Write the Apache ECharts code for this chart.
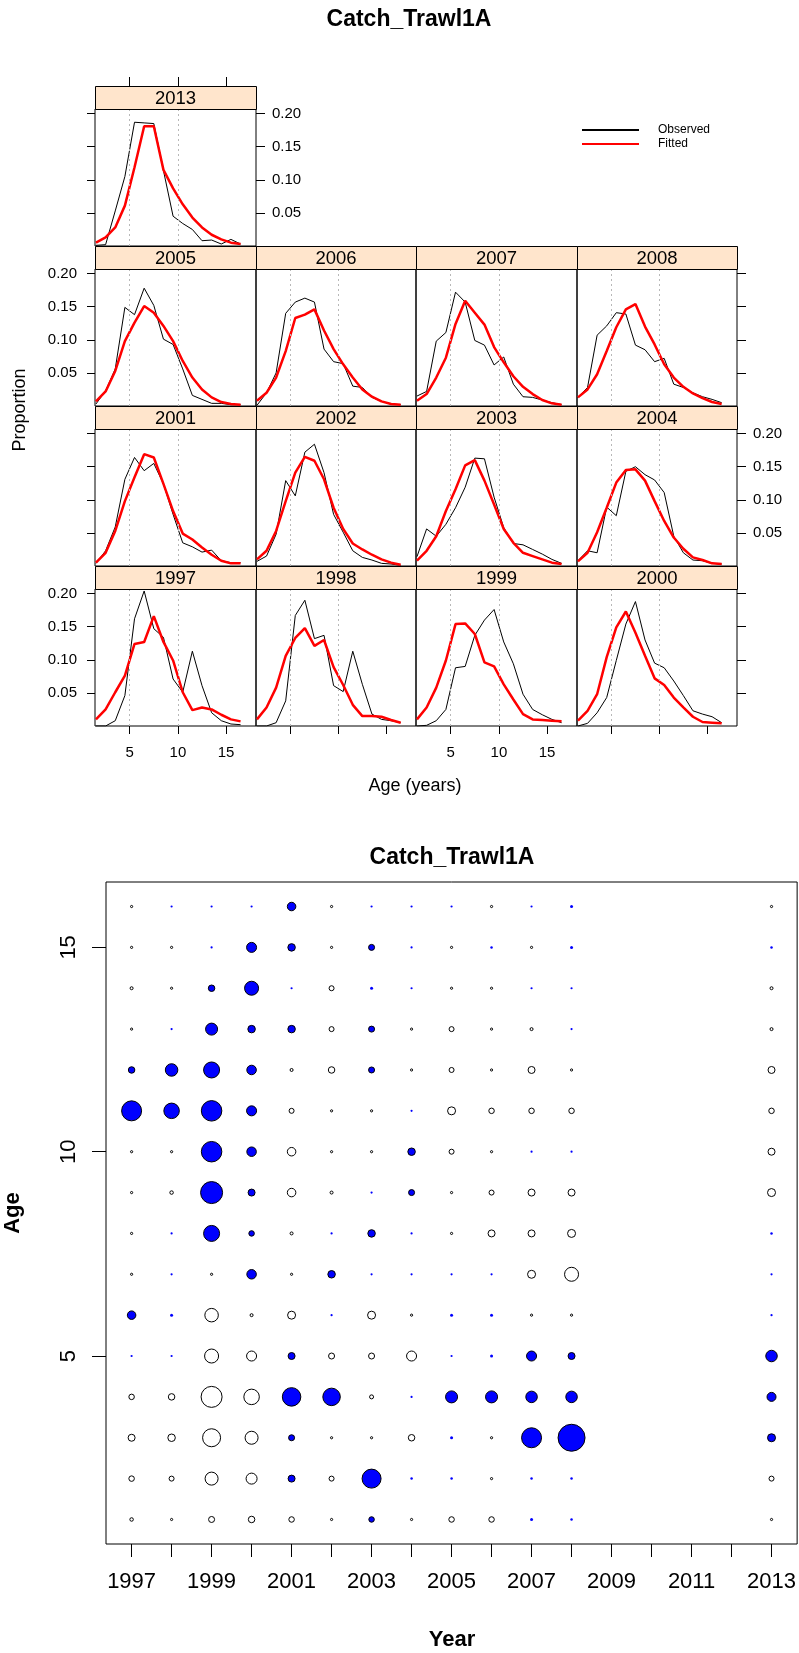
<!DOCTYPE html>
<html>
<head>
<meta charset="utf-8">
<title>Catch_Trawl1A</title>
<script src="https://cdn.jsdelivr.net/npm/echarts@6/dist/echarts.min.js"></script>
<style>
  html, body { margin: 0; padding: 0; background: #fff; }
  #chart { width: 799px; height: 1653px; }
</style>
</head>
<body>
<div id="chart"></div>
<script>
// ---- age composition fits (proportion at age) ----
const ageBins = [1.5, 2.5, 3.5, 4.5, 5.5, 6.5, 7.5, 8.5, 9.5, 10.5, 11.5, 12.5, 13.5, 14.5, 15.5, 16.5];

const obs2013 = [0.001, 0.002, 0.053, 0.105, 0.187, 0.186, 0.185, 0.114, 0.045, 0.034, 0.025, 0.008, 0.009, 0.003, 0.010, 0.003];
const fit2013 = [0.005, 0.013, 0.028, 0.061, 0.119, 0.181, 0.181, 0.115, 0.087, 0.063, 0.043, 0.028, 0.017, 0.010, 0.005, 0.003];
const obs2005 = [0.003, 0.023, 0.056, 0.149, 0.138, 0.178, 0.152, 0.101, 0.093, 0.056, 0.016, 0.010, 0.004, 0.004, 0.002, 0.002];
const fit2005 = [0.007, 0.022, 0.053, 0.098, 0.126, 0.151, 0.141, 0.121, 0.098, 0.068, 0.043, 0.025, 0.013, 0.006, 0.003, 0.002];
const obs2006 = [0.001, 0.020, 0.050, 0.140, 0.157, 0.163, 0.157, 0.086, 0.067, 0.064, 0.030, 0.028, 0.013, 0.007, 0.003, 0.002];
const fit2006 = [0.008, 0.020, 0.043, 0.083, 0.133, 0.138, 0.146, 0.114, 0.086, 0.063, 0.043, 0.025, 0.014, 0.007, 0.003, 0.002];
const obs2007 = [0.015, 0.022, 0.098, 0.111, 0.172, 0.157, 0.099, 0.092, 0.062, 0.074, 0.033, 0.014, 0.013, 0.009, 0.005, 0.002];
const fit2007 = [0.008, 0.018, 0.043, 0.073, 0.124, 0.159, 0.141, 0.123, 0.089, 0.066, 0.045, 0.029, 0.018, 0.009, 0.004, 0.002];
const obs2008 = [0.013, 0.028, 0.107, 0.121, 0.141, 0.139, 0.092, 0.085, 0.067, 0.072, 0.033, 0.028, 0.020, 0.014, 0.010, 0.005];
const fit2008 = [0.013, 0.025, 0.048, 0.083, 0.119, 0.146, 0.154, 0.120, 0.093, 0.063, 0.043, 0.029, 0.019, 0.012, 0.006, 0.003];
const obs2001 = [0.004, 0.023, 0.059, 0.131, 0.164, 0.144, 0.155, 0.124, 0.078, 0.035, 0.029, 0.021, 0.024, 0.008, 0.005, 0.005];
const fit2001 = [0.005, 0.020, 0.053, 0.098, 0.134, 0.169, 0.164, 0.124, 0.083, 0.049, 0.040, 0.028, 0.017, 0.008, 0.004, 0.004];
const obs2002 = [0.007, 0.015, 0.048, 0.129, 0.106, 0.172, 0.184, 0.141, 0.078, 0.051, 0.023, 0.013, 0.009, 0.004, 0.003, 0.001];
const fit2002 = [0.010, 0.023, 0.053, 0.098, 0.141, 0.165, 0.159, 0.131, 0.088, 0.056, 0.034, 0.025, 0.017, 0.010, 0.005, 0.002];
const obs2003 = [0.014, 0.056, 0.045, 0.063, 0.088, 0.119, 0.163, 0.162, 0.104, 0.058, 0.034, 0.032, 0.025, 0.018, 0.010, 0.004];
const fit2003 = [0.008, 0.023, 0.045, 0.083, 0.116, 0.152, 0.160, 0.129, 0.093, 0.056, 0.035, 0.020, 0.015, 0.010, 0.005, 0.003];
const obs2004 = [0.008, 0.023, 0.020, 0.089, 0.076, 0.143, 0.150, 0.138, 0.130, 0.111, 0.045, 0.020, 0.009, 0.008, 0.004, 0.003];
const fit2004 = [0.007, 0.020, 0.051, 0.088, 0.126, 0.145, 0.146, 0.129, 0.098, 0.068, 0.043, 0.026, 0.013, 0.009, 0.004, 0.003];
const obs1997 = [0.000, 0.000, 0.008, 0.046, 0.162, 0.204, 0.147, 0.134, 0.071, 0.051, 0.113, 0.061, 0.020, 0.008, 0.003, 0.002];
const fit1997 = [0.010, 0.025, 0.051, 0.076, 0.124, 0.127, 0.166, 0.127, 0.099, 0.051, 0.024, 0.028, 0.025, 0.017, 0.010, 0.007];
const obs1998 = [0.000, 0.000, 0.005, 0.038, 0.167, 0.190, 0.132, 0.137, 0.061, 0.052, 0.113, 0.063, 0.018, 0.010, 0.008, 0.005];
const fit1998 = [0.010, 0.028, 0.058, 0.106, 0.133, 0.148, 0.121, 0.130, 0.089, 0.062, 0.032, 0.015, 0.015, 0.014, 0.009, 0.005];
const obs1999 = [0.000, 0.001, 0.008, 0.025, 0.088, 0.090, 0.137, 0.160, 0.176, 0.127, 0.094, 0.048, 0.025, 0.017, 0.010, 0.005];
const fit1999 = [0.010, 0.028, 0.058, 0.099, 0.154, 0.155, 0.139, 0.096, 0.090, 0.063, 0.040, 0.018, 0.010, 0.009, 0.008, 0.007];
const obs2000 = [0.000, 0.004, 0.020, 0.043, 0.099, 0.154, 0.188, 0.130, 0.095, 0.088, 0.068, 0.046, 0.023, 0.018, 0.014, 0.005];
const fit2000 = [0.008, 0.023, 0.048, 0.104, 0.149, 0.173, 0.141, 0.106, 0.072, 0.062, 0.043, 0.028, 0.014, 0.006, 0.005, 0.004];

// panel order: top row holds 2013 alone, then 2005-2008, 2001-2004, 1997-2000
const panelYears = [2013, 2005, 2006, 2007, 2008, 2001, 2002, 2003, 2004, 1997, 1998, 1999, 2000];
const panelObs = [obs2013, obs2005, obs2006, obs2007, obs2008, obs2001, obs2002, obs2003, obs2004, obs1997, obs1998, obs1999, obs2000];
const panelFit = [fit2013, fit2005, fit2006, fit2007, fit2008, fit2001, fit2002, fit2003, fit2004, fit1997, fit1998, fit1999, fit2000];
const propTicks = [0.05, 0.10, 0.15, 0.20];
const ageTicks = [5, 10, 15];
const refAges = [5, 10];

// ---- Pearson residual bubbles (age 1..16 per year) ----
const bubbleYears = [1997, 1998, 1999, 2000, 2001, 2002, 2003, 2004, 2005, 2006, 2007, 2008, 2013];
const bubbleAges = [1, 2, 3, 4, 5, 6, 7, 8, 9, 10, 11, 12, 13, 14, 15, 16];
const res1997 = [-0.7, -1.1, -1.4, -1.1, 0.4, 1.7, -0.3, -0.3, -0.3, -0.3, 4.0, 1.3, -0.3, -0.6, -0.3, -0.3];
const res1998 = [-0.3, -1.0, -1.5, -1.3, 0.4, 0.6, 0.4, 0.4, -0.7, -0.3, 3.1, 2.5, 0.4, -0.3, -0.3, 0.4];
const res1999 = [-1.2, -2.6, -3.6, -4.2, -2.8, -2.7, -0.3, 3.2, 4.4, 4.1, 4.1, 3.2, 2.4, 1.3, 0.4, 0.4];
const res2000 = [-1.3, -2.2, -2.6, -3.1, -2.0, -0.6, 1.9, 1.1, 1.4, 1.9, 2.0, 1.9, 1.5, 2.8, 2.0, 0.4];
const res2001 = [-1.1, 1.4, 1.2, 3.7, 1.4, -1.6, -0.3, -0.6, -1.7, -1.7, -1.0, -0.6, 1.5, 0.4, 1.5, 1.7];
const res2002 = [-0.3, -1.0, -0.3, 3.5, -1.2, 0.4, 1.5, 0.4, -0.6, -0.3, -0.3, -1.3, -1.0, -1.0, -0.3, -0.3];
const res2003 = [1.1, 3.8, -0.3, -0.8, -1.2, -1.6, 0.4, 1.5, 0.4, -0.3, -0.3, 1.2, 1.2, 0.6, 1.2, 0.4];
const res2004 = [-0.3, 0.5, -1.3, 0.4, -2.0, -0.3, 0.4, 0.4, 1.2, 1.5, 0.4, -0.3, -0.3, 0.4, 0.4, 0.4];
const res2005 = [-1.1, 0.5, 0.6, 2.4, 0.4, 0.6, 0.4, -0.3, -0.3, -1.0, -1.6, -1.0, -1.0, -0.3, -0.3, 0.4];
const res2006 = [-1.1, -0.3, -0.3, 2.4, 0.6, 0.6, 0.4, -1.4, -1.0, -0.3, -1.1, -0.3, -0.3, -0.3, 0.5, -0.3];
const res2007 = [0.6, 0.5, 4.0, 2.3, 2.0, -0.3, -1.6, -1.4, -1.4, 0.4, -1.1, -1.4, -0.6, 0.4, -0.3, 0.4];
const res2008 = [0.5, 0.5, 5.4, 2.3, 1.4, -0.3, -2.8, -1.6, -1.4, 0.4, -1.1, -0.3, 0.4, 0.4, 0.6, 0.6];
const res2013 = [-0.3, -1.0, 1.6, 1.8, 2.3, 0.4, 0.4, 0.5, -1.6, -1.4, -1.1, -1.4, -0.6, -0.6, 0.5, -0.3];
const bubbleRes = [res1997, res1998, res1999, res2000, res2001, res2002, res2003, res2004, res2005, res2006, res2007, res2008, res2013];
const yearTicks = [1997, 1998, 1999, 2000, 2001, 2002, 2003, 2004, 2005, 2006, 2007, 2008, 2009, 2010, 2011, 2012, 2013];
const yearLabels = [1997, 1999, 2001, 2003, 2005, 2007, 2009, 2011, 2013];
const residAgeTicks = [5, 10, 15];

// ---- layout ----
const FONT = '"Liberation Sans", Arial, Helvetica, sans-serif';
const PANEL_X0 = 95, PANEL_W = 160.5, ROW_Y0 = 86, ROW_STEP = 160, STRIP_H = 23;
const X_MIN = 1.4, X_MAX = 18.1, Y_MAX = 0.207;

const chart = echarts.init(document.getElementById('chart'), null, { renderer: 'canvas' });

const grids = [], xAxes = [], yAxes = [], series = [], graphics = [];

function cellOf(i) {
  if (i === 0) return { r: 0, c: 0 };
  return { r: 1 + Math.floor((i - 1) / 4), c: (i - 1) % 4 };
}

panelYears.forEach((year, i) => {
  const { r, c } = cellOf(i);
  const left = Math.round(PANEL_X0 + c * PANEL_W);
  const right = Math.round(PANEL_X0 + (c + 1) * PANEL_W);
  const stripTop = ROW_Y0 + r * ROW_STEP;
  const top = stripTop + STRIP_H;
  const bottomRow = r === 3;
  const rightmost = i === 0 || c === 3;

  grids.push({
    left: left, top: top, width: right - left, height: ROW_STEP - STRIP_H,
    show: true, borderColor: '#000', borderWidth: 1
  });

  const tickStyle = { color: '#000', width: 1 };
  const labelStyle = { color: '#000', fontSize: 15, fontFamily: FONT };

  xAxes.push({
    gridIndex: i, type: 'value', min: X_MIN, max: X_MAX,
    axisLine: { show: false }, splitLine: { show: false },
    axisTick: { show: bottomRow, length: 8, lineStyle: tickStyle, customValues: ageTicks },
    axisLabel: Object.assign({ show: bottomRow && c % 2 === 0, margin: 19, customValues: ageTicks }, labelStyle)
  });

  yAxes.push({
    gridIndex: i, type: 'value', position: 'left', min: 0, max: Y_MAX,
    axisLine: { show: false }, splitLine: { show: false },
    axisTick: { show: c === 0, length: 8, lineStyle: tickStyle, customValues: propTicks },
    axisLabel: Object.assign({
      show: c === 0 && (r === 1 || r === 3), margin: 18, customValues: propTicks,
      formatter: (v) => v.toFixed(2)
    }, labelStyle)
  });
  yAxes.push({
    gridIndex: i, type: 'value', position: 'right', min: 0, max: Y_MAX,
    show: rightmost,
    axisLine: { show: false }, splitLine: { show: false },
    axisTick: { show: rightmost, length: 9, lineStyle: tickStyle, customValues: propTicks },
    axisLabel: Object.assign({
      show: rightmost && (r === 0 || r === 2), margin: 16, customValues: propTicks,
      formatter: (v) => v.toFixed(2)
    }, labelStyle)
  });

  series.push({
    name: 'Observed', type: 'line', xAxisIndex: i, yAxisIndex: 2 * i,
    data: ageBins.map((a, k) => [a, panelObs[i][k]]),
    symbol: 'none', z: 3, silent: true,
    lineStyle: { color: '#000', width: 1 }, itemStyle: { color: '#000' },
    markLine: {
      silent: true, symbol: ['none', 'none'], label: { show: false }, animation: false,
      lineStyle: { color: '#b8b8b8', type: [2, 3], width: 1 },
      emphasis: { disabled: true },
      data: refAges.map((a) => ({ xAxis: a }))
    }
  });
  series.push({
    name: 'Fitted', type: 'line', xAxisIndex: i, yAxisIndex: 2 * i,
    data: ageBins.map((a, k) => [a, panelFit[i][k]]),
    symbol: 'none', z: 4, silent: true,
    lineStyle: { color: '#ff0000', width: 2.5 }, itemStyle: { color: '#ff0000' }
  });

  // strip with panel year
  graphics.push({
    type: 'rect', silent: true, z: 10,
    shape: { x: left + 0.5, y: stripTop + 0.5, width: right - left, height: STRIP_H },
    style: { fill: '#ffe5cc', stroke: '#000', lineWidth: 1 }
  });
  graphics.push({
    type: 'text', silent: true, z: 11,
    x: (left + right) / 2, y: stripTop + STRIP_H / 2 + 1,
    style: { text: String(year), fontSize: 18.5, fontFamily: FONT, fill: '#000', align: 'center', verticalAlign: 'middle' }
  });
});

// top ticks over the 2013 strip: a thin bare grid sitting on top of the strip
const TG = grids.length;
grids.push({ left: 95, top: ROW_Y0 - 9, width: Math.round(PANEL_X0 + PANEL_W) - 95, height: 9, show: false });
xAxes.push({
  gridIndex: TG, type: 'value', position: 'bottom', min: X_MIN, max: X_MAX,
  axisLine: { show: false }, splitLine: { show: false },
  axisTick: { show: true, inside: true, length: 9, lineStyle: { color: '#000' }, customValues: ageTicks },
  axisLabel: { show: false, customValues: ageTicks }
});
yAxes.push({ gridIndex: TG, type: 'value', show: false, min: 0, max: 1 });

// ---- bubble plot ----
const BG = grids.length;
grids.push({ left: 106, top: 882, width: 692, height: 662, show: true, borderColor: '#000', borderWidth: 1 });
const bxIndex = xAxes.length;
xAxes.push({
  gridIndex: BG, type: 'value', min: 1996.36, max: 2013.64,
  axisLine: { show: false }, splitLine: { show: false },
  axisTick: { show: true, length: 13, lineStyle: { color: '#000' }, customValues: yearTicks },
  axisLabel: { customValues: yearLabels, margin: 27, fontSize: 22, color: '#000', fontFamily: FONT, formatter: (v) => String(v) }
});
const byIndex = yAxes.length;
yAxes.push({
  gridIndex: BG, type: 'value', min: 0.4, max: 16.6,
  axisLine: { show: false }, splitLine: { show: false },
  axisTick: { show: true, length: 14, lineStyle: { color: '#000' }, customValues: residAgeTicks },
  axisLabel: { customValues: residAgeTicks, rotate: 90, margin: 26, fontSize: 22, color: '#000', fontFamily: FONT }
});

const bubbleSize = (val) => Math.max(Math.abs(val[2]) * 5, 2.2);
const posPts = [], negPts = [];
bubbleYears.forEach((yr, j) => {
  bubbleAges.forEach((age, k) => {
    const v = bubbleRes[j][k];
    if (v >= 0) {
      posPts.push({ value: [yr, age, v], itemStyle: { borderWidth: Math.abs(v) * 5 < 4 ? 0 : 1 } });
    } else {
      negPts.push({ value: [yr, age, v] });
    }
  });
});
series.push({
  type: 'scatter', name: 'positive', xAxisIndex: bxIndex, yAxisIndex: byIndex, silent: true,
  symbol: 'circle', symbolSize: bubbleSize, data: posPts,
  itemStyle: { color: '#0000ff', borderColor: '#000', borderWidth: 1, opacity: 1 }
});
series.push({
  type: 'scatter', name: 'negative', xAxisIndex: bxIndex, yAxisIndex: byIndex, silent: true,
  symbol: 'circle', symbolSize: bubbleSize, data: negPts,
  itemStyle: { color: '#ffffff', borderColor: '#000', borderWidth: 1, opacity: 1 }
});

// ---- titles and axis names ----
const txt = (text, x, y, size, bold, rot) => ({
  type: 'text', silent: true, x: x, y: y, rotation: rot || 0,
  style: { text: text, fontSize: size, fontWeight: bold ? 'bold' : 'normal', fontFamily: FONT, fill: '#000', align: 'center', verticalAlign: 'middle' }
});
graphics.push(txt('Catch_Trawl1A', 409, 20, 23, true));
graphics.push(txt('Proportion', 20, 410, 18, false, Math.PI / 2));
graphics.push(txt('Age (years)', 415, 786, 18, false));
graphics.push(txt('Catch_Trawl1A', 452, 858, 23, true));
graphics.push(txt('Year', 452, 1640, 22, true));
graphics.push(txt('Age', 13, 1213, 22, true, Math.PI / 2));

chart.setOption({
  animation: false,
  backgroundColor: '#fff',
  legend: {
    data: ['Observed', 'Fitted'], orient: 'vertical', left: 576, top: 119,
    itemWidth: 57, itemHeight: 14, itemGap: 2, selectedMode: false,
    itemStyle: { opacity: 0 },
    textStyle: { fontSize: 12, fontFamily: FONT, color: '#000', padding: [0, 0, 0, 14] }
  },
  grid: grids,
  xAxis: xAxes,
  yAxis: yAxes,
  series: series,
  graphic: graphics
});
</script>
</body>
</html>
